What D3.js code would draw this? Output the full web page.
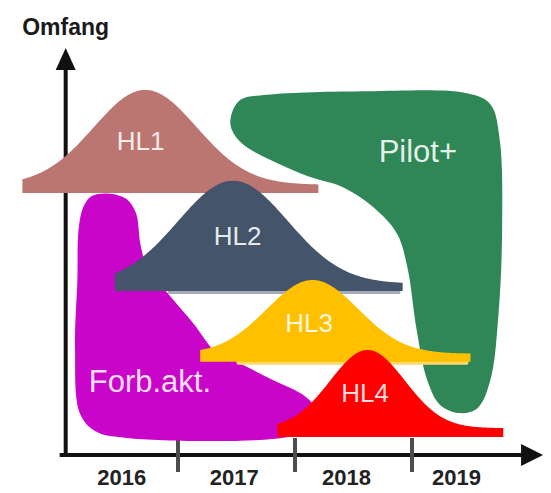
<!DOCTYPE html>
<html>
<head>
<meta charset="utf-8">
<script src="https://cdn.jsdelivr.net/npm/d3@7"></script>
<style>
  html, body { margin: 0; padding: 0; background: #fff; }
  svg { display: block; font-family: "Liberation Sans", Arial, sans-serif; }
</style>
</head>
<body>
<div id="chart"></div>
<script>
// years along the bottom
const years = ["2016", "2017", "2018", "2019"];
const yearTicks = [2017, 2018, 2019];
const yearLabelAt = [2016.52, 2017.48, 2018.44, 2019.38];

// the four bell-shaped phases (x in years, y in "Omfang" units 0-100)
const phases = ["HL1", "HL2", "HL3", "HL4"];
const phaseStart = [2015.67, 2016.46, 2017.19, 2017.85];
const phaseEnd = [2018.20, 2018.92, 2019.50, 2019.78];
const phasePeak = [2016.72, 2017.47, 2018.15, 2018.62];
const phaseSpread = [0.44, 0.47, 0.39, 0.32];
const phaseBase = [64.4, 40.3, 22.9, 4.4];
const phaseFoot = [2.0, 1.8, 2.0, 2.2];
const phaseHeight = [23.3, 25.3, 18.1, 19.2];
const phaseLabelAt = [[2016.68, 74.9], [2017.51, 51.6], [2018.12, 30.2], [2018.60, 13.0]];

// free-form areas
const pilotName = "Pilot+";
const pilotOutline = [
  [2017.45, 82.8], [2017.53, 87.2], [2017.76, 88.5], [2018.62, 89.4], [2019.47, 88.9],
  [2019.67, 86.2], [2019.75, 77.4], [2019.77, 55.3], [2019.74, 34.9], [2019.67, 18.4],
  [2019.56, 11.5], [2019.41, 10.3], [2019.24, 12.3], [2019.13, 18.4], [2019.04, 30.7],
  [2018.96, 46.2], [2018.87, 54.5], [2018.67, 60.9], [2018.41, 65.8], [2018.13, 68.3],
  [2017.85, 71.7], [2017.56, 76.2], [2017.46, 79.9]
];
const pilotLabelAt = [2019.05, 72.0];

const forbName = "Forb.akt.";
const forbOutline = [
  [2016.19, 60.9], [2016.26, 63.6], [2016.42, 64.2], [2016.56, 62.9], [2016.64, 59.5],
  [2016.68, 51.6], [2016.74, 45.9], [2016.91, 39.8], [2017.13, 32.4], [2017.33, 25.1],
  [2017.50, 22.9], [2017.81, 18.4], [2018.09, 14.3], [2018.19, 10.6], [2018.11, 6.6],
  [2017.94, 4.4], [2016.56, 4.2], [2016.29, 5.9], [2016.16, 10.3], [2016.12, 26.5],
  [2016.14, 43.0], [2016.15, 55.3]
];
const forbLabelAt = [2016.76, 15.5];

const axisFrom = 2016.04, axisTo = 2020.12, axisTop = 100;

// styles
const phaseColor = ["#bb7672", "#44546a", "#ffc000", "#ff0000"];
const phaseShade = [null, "#a3abb8", "#ffd966", null];
const phaseShadeFrom = [null, 2016.91, 2017.50, null];
const pilotColor = "#2f8758";
const forbColor = "#c905c9";

const width = 551, height = 493;

const svg = d3.select("#chart").append("svg")
  .attr("width", width)
  .attr("height", height);

const x = d3.scaleLinear().domain([2016, 2020]).range([61, 529]);
const y = d3.scaleLinear().domain([0, 100]).range([455, 48]);

// axes
const axes = svg.append("g");
axes.append("line")
  .attr("x1", x(axisFrom)).attr("x2", x(axisFrom))
  .attr("y1", y(0) + 2).attr("y2", y(axisTop) + 16)
  .attr("stroke", "#111").attr("stroke-width", 4);
axes.append("path")
  .attr("d", `M${x(axisFrom)},${y(axisTop)} L${x(axisFrom) - 10},${y(axisTop) + 22} L${x(axisFrom) + 10},${y(axisTop) + 22} Z`)
  .attr("fill", "#111");
axes.append("line")
  .attr("x1", x(axisFrom) - 6).attr("x2", x(axisTo) - 16)
  .attr("y1", y(0)).attr("y2", y(0))
  .attr("stroke", "#111").attr("stroke-width", 4);
axes.append("path")
  .attr("d", `M${x(axisTo)},${y(0)} L${x(axisTo) - 22},${y(0) - 11} L${x(axisTo) - 22},${y(0) + 11} Z`)
  .attr("fill", "#111");

axes.selectAll(".tick")
  .data(yearTicks)
  .enter()
  .append("line")
    .attr("class", "tick")
    .attr("x1", d => x(d)).attr("x2", d => x(d))
    .attr("y1", y(0) - 17).attr("y2", y(0) + 17)
    .attr("stroke", "#4d4d4d").attr("stroke-width", 4);

axes.selectAll(".year")
  .data(years)
  .enter()
  .append("text")
    .attr("class", "year")
    .attr("x", (d, i) => x(yearLabelAt[i]))
    .attr("y", 485)
    .attr("text-anchor", "middle")
    .attr("font-size", "22px")
    .attr("font-weight", "bold")
    .attr("fill", "#222")
    .text(d => d);

axes.append("text")
  .attr("x", x(axisFrom))
  .attr("y", 35)
  .attr("text-anchor", "middle")
  .attr("font-size", "23px")
  .attr("font-weight", "bold")
  .attr("fill", "#1a1a1a")
  .text("Omfang");

// blobs
const blob = d3.line()
  .x(d => x(d[0]))
  .y(d => y(d[1]))
  .curve(d3.curveCatmullRomClosed.alpha(0.5));

svg.append("path").attr("d", blob(pilotOutline)).attr("fill", pilotColor);
svg.append("path").attr("d", blob(forbOutline)).attr("fill", forbColor);

// bells
const bell = d3.area()
  .x(d => x(d.t))
  .y0(d => y(d.lo))
  .y1(d => y(d.hi));

phases.forEach((name, i) => {
  const pts = d3.range(phaseStart[i], phaseEnd[i] + 0.001, 0.01).map(t => ({
    t: t,
    lo: phaseBase[i],
    hi: phaseBase[i] + phaseFoot[i] +
      phaseHeight[i] * Math.exp(-Math.pow(t - phasePeak[i], 2) / (2 * phaseSpread[i] * phaseSpread[i]))
  }));
  if (phaseShade[i]) {
    svg.append("rect")
      .attr("x", x(phaseShadeFrom[i]))
      .attr("y", y(phaseBase[i]) - 1)
      .attr("width", x(phaseEnd[i]) - x(phaseShadeFrom[i]) - 2)
      .attr("height", 4)
      .attr("rx", 2)
      .attr("fill", phaseShade[i]);
  }
  svg.append("path")
    .attr("d", bell(pts))
    .attr("fill", phaseColor[i]);
});

// labels
const labels = phases.map((p, i) => ({ text: p, at: phaseLabelAt[i], size: 26 }))
  .concat([
    { text: pilotName, at: pilotLabelAt, size: 31 },
    { text: forbName, at: forbLabelAt, size: 31 }
  ]);

svg.selectAll(".lbl")
  .data(labels)
  .enter()
  .append("text")
    .attr("class", "lbl")
    .attr("x", d => x(d.at[0]))
    .attr("y", d => y(d.at[1]))
    .attr("text-anchor", "middle")
    .attr("font-size", d => d.size + "px")
    .attr("fill", "#fff")
    .attr("fill-opacity", 0.88)
    .text(d => d.text);
</script>
</body>
</html>
